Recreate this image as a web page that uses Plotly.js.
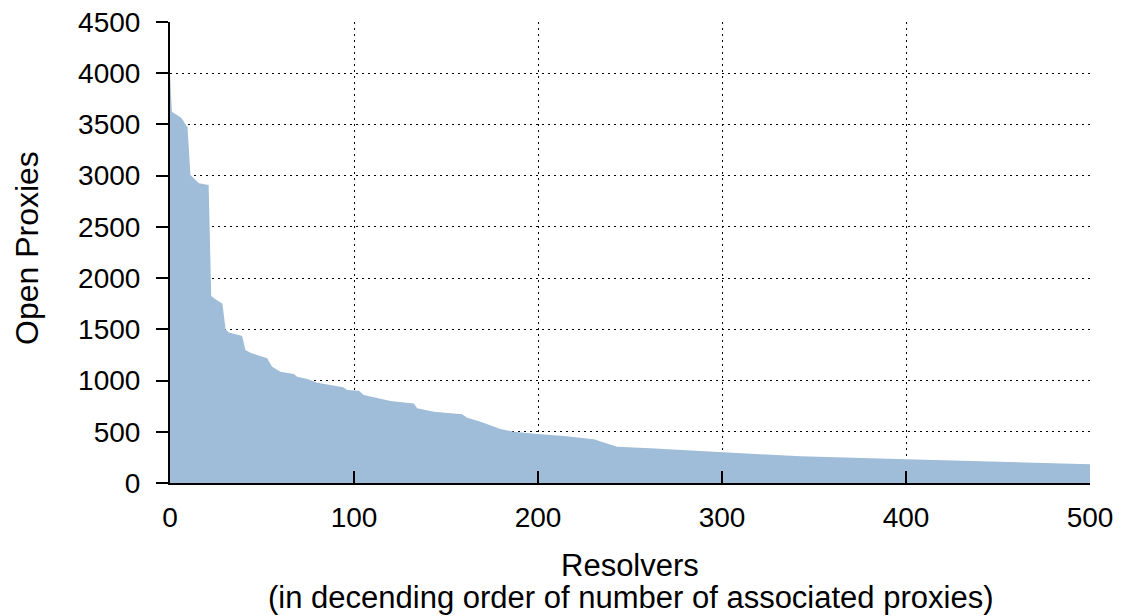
<!DOCTYPE html>
<html>
<head>
<meta charset="utf-8">
<script src="https://cdn.plot.ly/plotly-3.0.1.min.js"></script>
<style>
html,body{margin:0;padding:0;background:#fff;}
#chart{width:1128px;height:616px;}
</style>
</head>
<body>
<div id="chart"></div>
<script>
// Resolver rank (breakpoints)
var resolverRank = [0, 1, 5.7, 7, 9, 9.5, 11.1, 13.9, 15.7, 21, 22.4, 24.7, 28, 28.5, 30.2, 32, 38.3, 39.2, 41, 44, 52.8, 55.5, 60, 67.3, 69.1, 74.6, 80, 87.2, 94.1, 96.3, 102.6, 105.3, 112.6, 119.8, 132.5, 134.3, 143.4, 158.8, 161.5, 168.8, 179.6, 186.8, 199.5, 214, 230.3, 243, 261, 288.3, 300, 342.7, 400, 451, 500];
// Number of open proxies associated with each resolver
var openProxies = [4000, 3625, 3570, 3543, 3485, 3480, 3006, 2958, 2925, 2908, 1825, 1793, 1754, 1750, 1500, 1470, 1440, 1435, 1298, 1270, 1217, 1135, 1087, 1064, 1038, 1015, 979, 957, 934, 908, 901, 859, 827, 800, 775, 729, 695, 670, 637, 598, 527, 501, 478, 459, 427, 354, 338, 312, 297, 260, 231, 205, 183];

var xTicks = [0, 100, 200, 300, 400, 500];
var yTicks = [0, 500, 1000, 1500, 2000, 2500, 3000, 3500, 4000, 4500];

var xTitleLines = ['Resolvers', '(in decending order of number of associated proxies)'];
var yTitle = 'Open Proxies';

var font = {family: 'Liberation Sans, Arial, sans-serif', size: 28, color: '#000'};
var titleFont = {family: 'Liberation Sans, Arial, sans-serif', size: 31, color: '#000'};
var yTitleFont = {family: 'Liberation Sans, Arial, sans-serif', size: 32, color: '#000'};

var trace = {
  x: resolverRank,
  y: openProxies,
  type: 'scatter',
  mode: 'lines',
  fill: 'tozeroy',
  fillcolor: 'rgb(159,188,216)',
  line: {width: 0, color: 'rgb(159,188,216)'},
  hoverinfo: 'x+y'
};

// plot area: x 170..1090 px, y 22..483 px
var plotH = 461, plotW = 920, plotL = 170, plotB = 483;
function py(p) { return (plotB - p) / plotH; }
function px(p) { return (p - plotL) / plotW; }

var layout = {
  width: 1128,
  height: 616,
  margin: {l: 170, r: 38, t: 22, b: 133},
  paper_bgcolor: '#fff',
  plot_bgcolor: '#fff',
  showlegend: false,
  font: font,
  xaxis: {
    range: [0, 500],
    tickvals: xTicks,
    ticktext: xTicks.map(String),
    ticks: 'inside',
    ticklen: 12,
    tickwidth: 2,
    tickcolor: '#000',
    showline: true,
    linecolor: '#000',
    linewidth: 2,
    showgrid: true,
    gridcolor: '#000',
    gridwidth: 1,
    griddash: '2px,4px',
    zeroline: false,
    ticklabelstandoff: 8,
    tickfont: font
  },
  yaxis: {
    range: [0, 4500],
    tickvals: yTicks,
    ticktext: yTicks.map(String),
    ticks: 'outside',
    ticklen: 12,
    tickwidth: 2,
    tickcolor: '#000',
    showline: true,
    linecolor: '#000',
    linewidth: 2,
    showgrid: true,
    gridcolor: '#000',
    gridwidth: 1,
    griddash: '2px,4px',
    zeroline: false,
    ticklabelstandoff: 10,
    tickfont: font
  },
  annotations: [
    {text: xTitleLines[0], xref: 'paper', yref: 'paper', x: px(630), y: py(565), xanchor: 'center', yanchor: 'middle', showarrow: false, font: titleFont},
    {text: xTitleLines[1], xref: 'paper', yref: 'paper', x: px(630), y: py(597), xanchor: 'center', yanchor: 'middle', showarrow: false, font: titleFont},
    {text: yTitle, xref: 'paper', yref: 'paper', x: px(27), y: py(248), xanchor: 'center', yanchor: 'middle', textangle: -90, showarrow: false, font: yTitleFont}
  ]
};

Plotly.newPlot('chart', [trace], layout, {staticPlot: true, displayModeBar: false});
</script>
</body>
</html>
